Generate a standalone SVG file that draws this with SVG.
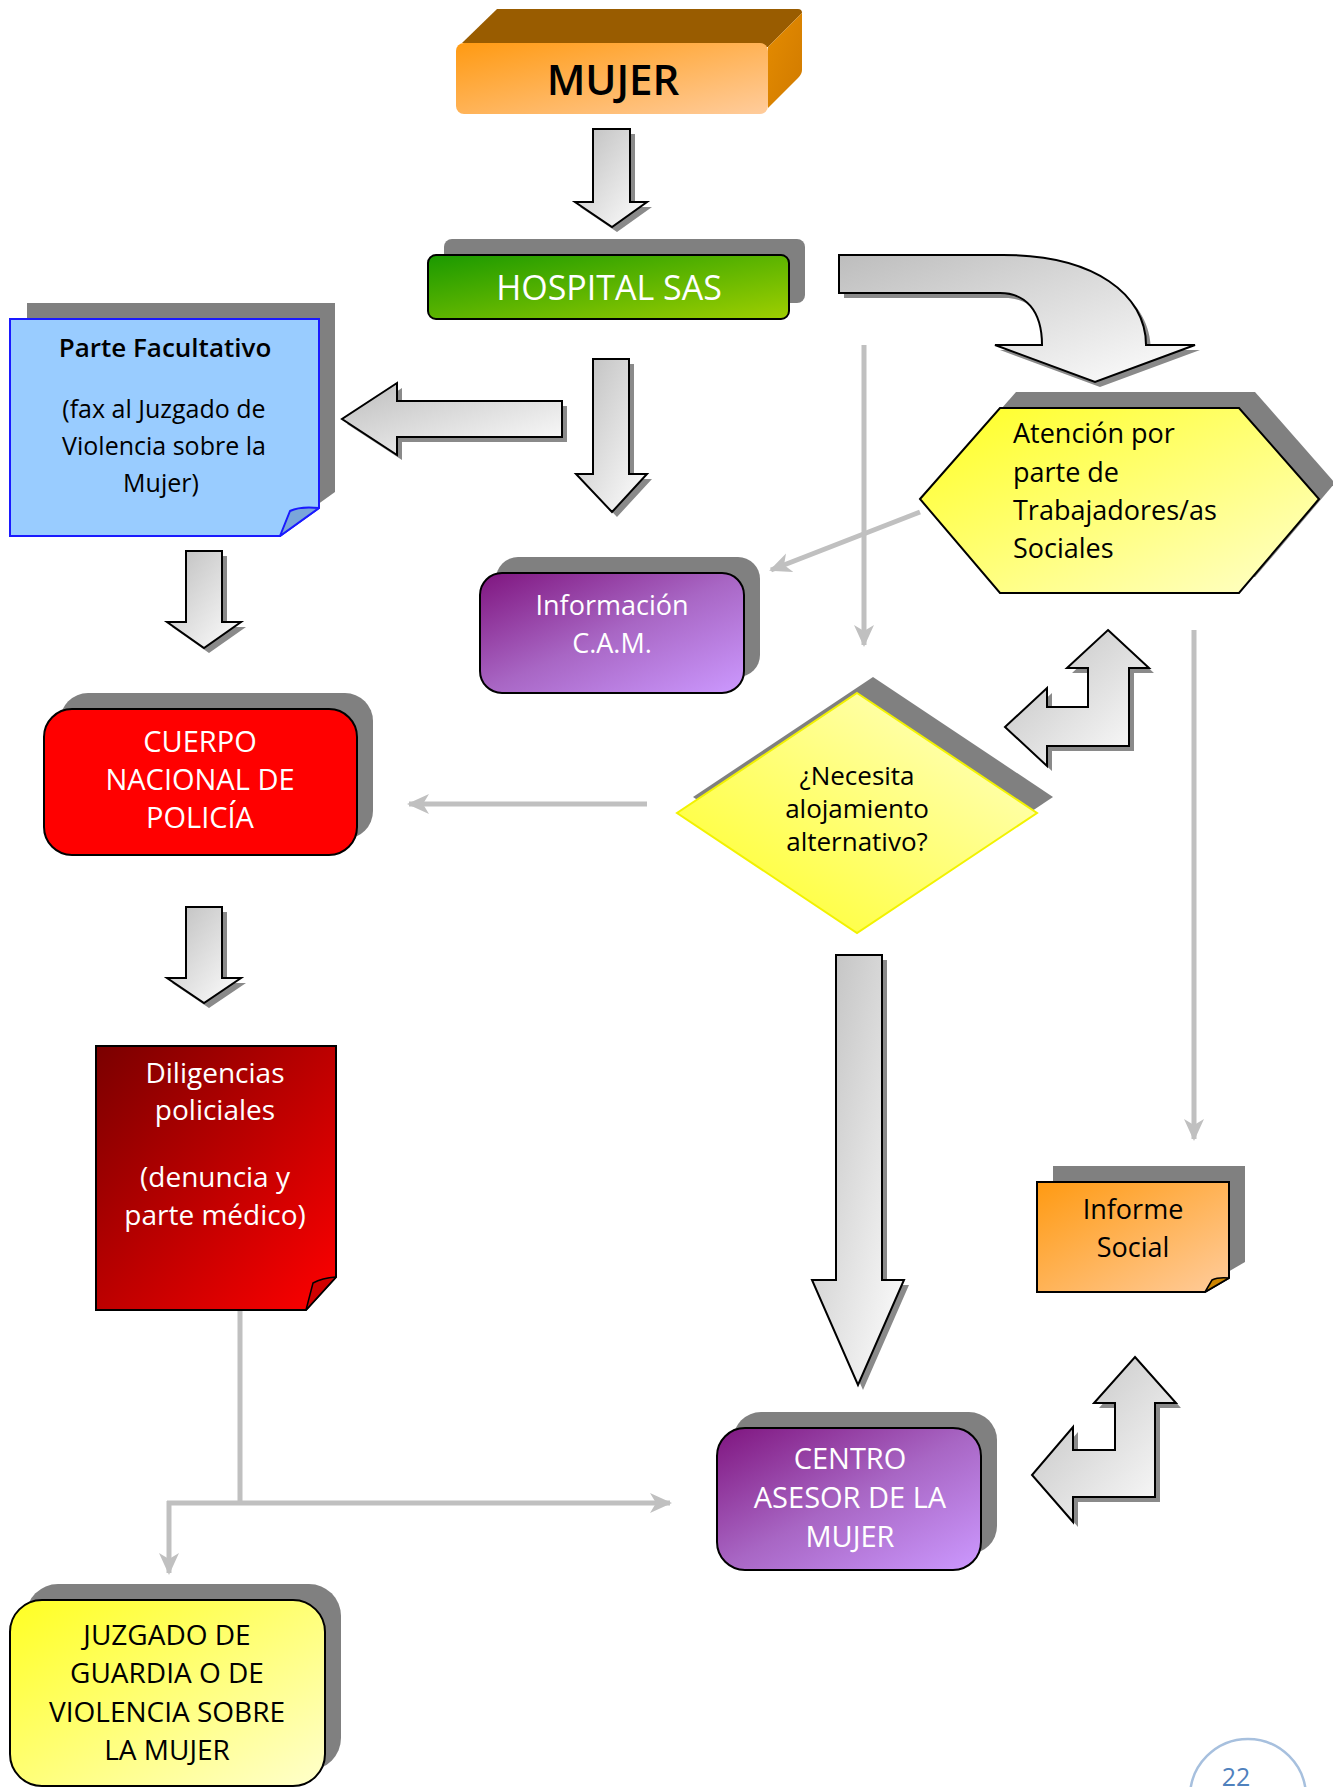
<svg xmlns="http://www.w3.org/2000/svg" xmlns:xlink="http://www.w3.org/1999/xlink" width="1333" height="1787" viewBox="0 0 1333 1787">
<style>
text{font-family:"Open Sans","DejaVu Sans",sans-serif;}
.shadow{fill:#808080;}
.ash{fill:#8a8a8a;}
.arr{fill:url(#gArrow);stroke:#000;stroke-width:2;stroke-linejoin:miter;}
.gline{fill:none;stroke:#c0c0c0;stroke-width:5;}
.w{fill:#fff;}
.k{fill:#000;}
.mid{text-anchor:middle;}
</style>
<defs>
<linearGradient id="gArrow" x1="0" y1="0" x2="1" y2="1"><stop offset="0" stop-color="#bdbdbd"/><stop offset="1" stop-color="#ffffff"/></linearGradient>
<linearGradient id="gOrange" x1="0" y1="0" x2="1" y2="1"><stop offset="0" stop-color="#ff9a12"/><stop offset="1" stop-color="#ffcc9c"/></linearGradient>
<linearGradient id="gGreen" x1="0" y1="0" x2="1" y2="1"><stop offset="0" stop-color="#1a9900"/><stop offset="1" stop-color="#9fcf00"/></linearGradient>
<linearGradient id="gPurple" x1="0" y1="0" x2="1" y2="1"><stop offset="0" stop-color="#7f157f"/><stop offset="0.5" stop-color="#a866c4"/><stop offset="1" stop-color="#cc99ff"/></linearGradient>
<linearGradient id="gYellow" x1="0" y1="0" x2="1" y2="1"><stop offset="0" stop-color="#ffff22"/><stop offset="1" stop-color="#ffffcc"/></linearGradient>
<linearGradient id="gYellowD" x1="0" y1="1" x2="1" y2="0"><stop offset="0" stop-color="#ffff22"/><stop offset="1" stop-color="#ffffcc"/></linearGradient>
<linearGradient id="gRed" x1="0" y1="0" x2="1" y2="1"><stop offset="0" stop-color="#7a0000"/><stop offset="1" stop-color="#ff0000"/></linearGradient>
<linearGradient id="gRight" x1="0" y1="0" x2="1" y2="1"><stop offset="0" stop-color="#e58c00"/><stop offset="1" stop-color="#d07a00"/></linearGradient>
<marker id="ga" markerUnits="userSpaceOnUse" viewBox="0 0 22 22" refX="20" refY="11" markerWidth="22" markerHeight="22" orient="auto"><path d="M0,1 L22,11 L0,21 L6,11 Z" fill="#c0c0c0"/></marker>
<path id="a1" d="M593,129 H630 V202 H647 L612,227 L575,202 H593 Z"/>
<path id="a2" d="M593,359 H629 V474 H647 L612,512 L576,474 H593 Z"/>
<path id="a3" d="M562,401 V437 H397 V455 L342,419 L397,383 V401 Z"/>
<path id="a4" d="M186,551 H222 V622 H241 L204,648 L167,622 H186 Z"/>
<path id="a5" d="M186,907 H222 V978 H241 L204,1003 L167,978 H186 Z"/>
<path id="a6" d="M836,955 H882 V1280 H904 L858,1385 L812,1280 H836 Z"/>
<path id="a7" d="M839,255 H1003 C1095,255 1146,295 1146,345 H1195 L1095,382 L995,345 H1042 C1042,310 1025,293 1000,293 H839 Z"/>
<path id="a8" d="M1108,630 L1149,668 H1129 V746 H1047 V766 L1005,727 L1047,688 V707 H1088 V668 H1067 Z"/>
<path id="a9" d="M1135,1357 L1176,1403 H1155 V1497 H1073 V1522 L1032,1475 L1073,1427 V1450 H1115 V1403 H1094 Z"/>
</defs>
<rect width="1333" height="1787" fill="#fff"/>

<g id="connectors">
<path class="gline" d="M864,345 V645" marker-end="url(#ga)"/>
<path class="gline" d="M920,512 L771,570" marker-end="url(#ga)"/>
<path class="gline" d="M647,804 H409" marker-end="url(#ga)"/>
<path class="gline" d="M1194,630 V1139" marker-end="url(#ga)"/>
<path class="gline" d="M240,1310 V1503"/>
<path class="gline" d="M167,1503 H670" marker-end="url(#ga)"/>
<path class="gline" d="M169,1501 V1573" marker-end="url(#ga)"/>
<use xlink:href="#a1" href="#a1" class="ash" transform="translate(5,5)"/>
<use xlink:href="#a1" href="#a1" class="arr"/>
<use xlink:href="#a2" href="#a2" class="ash" transform="translate(5,5)"/>
<use xlink:href="#a2" href="#a2" class="arr"/>
<use xlink:href="#a3" href="#a3" class="ash" transform="translate(5,5)"/>
<use xlink:href="#a3" href="#a3" class="arr"/>
<use xlink:href="#a4" href="#a4" class="ash" transform="translate(5,5)"/>
<use xlink:href="#a4" href="#a4" class="arr"/>
<use xlink:href="#a5" href="#a5" class="ash" transform="translate(5,5)"/>
<use xlink:href="#a5" href="#a5" class="arr"/>
<use xlink:href="#a6" href="#a6" class="ash" transform="translate(5,5)"/>
<use xlink:href="#a6" href="#a6" class="arr"/>
<use xlink:href="#a7" href="#a7" class="ash" transform="translate(5,5)"/>
<use xlink:href="#a7" href="#a7" class="arr"/>
<use xlink:href="#a8" href="#a8" class="ash" transform="translate(5,5)"/>
<use xlink:href="#a8" href="#a8" class="arr"/>
<use xlink:href="#a9" href="#a9" class="ash" transform="translate(5,5)"/>
<use xlink:href="#a9" href="#a9" class="arr"/>
</g>

<g id="mujer">
<path d="M462,43 L497,9 H798 Q802,9 802,13 L768,47 Z" fill="#995c00"/>
<path d="M768,47 L802,13 V70 Q802,74 798,78 L768,108 Z" fill="url(#gRight)"/>
<rect x="456" y="43" width="312" height="71" rx="8" fill="url(#gOrange)"/>
<text class="k mid" x="613" y="95" font-size="42" font-weight="600">MUJER</text>
</g>

<g id="hospital">
<rect class="shadow" x="444" y="239" width="361" height="64" rx="8"/>
<rect x="428" y="255" width="361" height="64" rx="8" fill="url(#gGreen)" stroke="#000" stroke-width="2"/>
<text class="w mid" x="609" y="300" font-size="34">HOSPITAL SAS</text>
</g>

<g id="parte">
<path class="shadow" d="M27,303 H335 V492 L296,520 H27 Z"/>
<path d="M10,319 H319 V508 L280,536 H10 Z" fill="#99ccff" stroke="#1a1aff" stroke-width="2"/>
<path d="M280,536 L290,511 Q300,506 319,508 Z" fill="#7aa6da" stroke="#1a1aff" stroke-width="2" stroke-linejoin="round"/>
<text class="k mid" x="165" y="357" font-size="26" font-weight="600">Parte Facultativo</text>
<text class="k mid" x="164" y="418" font-size="25">(fax al Juzgado de</text>
<text class="k mid" x="164" y="455" font-size="25">Violencia sobre la</text>
<text class="k mid" x="161" y="492" font-size="25">Mujer)</text>
</g>

<g id="informacion">
<rect class="shadow" x="496" y="557" width="264" height="120" rx="22"/>
<rect x="480" y="573" width="264" height="120" rx="22" fill="url(#gPurple)" stroke="#000" stroke-width="2"/>
<text class="w mid" x="612" y="615" font-size="27">Información</text>
<text class="w mid" x="612" y="653" font-size="27">C.A.M.</text>
</g>

<g id="atencion">
<polygon class="shadow" points="936,483 1016,392 1255,392 1335,483 1255,577 1016,577"/>
<polygon points="920,499 1000,408 1239,408 1319,499 1239,593 1000,593" fill="url(#gYellow)" stroke="#000" stroke-width="2"/>
<text class="k" x="1013" y="443" font-size="27">Atención por</text>
<text class="k" x="1013" y="482" font-size="27">parte de</text>
<text class="k" x="1013" y="520" font-size="27">Trabajadores/as</text>
<text class="k" x="1013" y="558" font-size="27">Sociales</text>
</g>

<g id="cuerpo">
<rect class="shadow" x="60" y="693" width="313" height="146" rx="28"/>
<rect x="44" y="709" width="313" height="146" rx="28" fill="#ff0000" stroke="#000" stroke-width="2"/>
<text class="w mid" x="200" y="752" font-size="29">CUERPO</text>
<text class="w mid" x="200" y="790" font-size="29">NACIONAL DE</text>
<text class="w mid" x="200" y="828" font-size="29">POLICÍA</text>
</g>

<g id="necesita">
<polygon class="shadow" points="873,677 1053,797 873,917 693,797"/>
<polygon points="857,693 1037,813 857,933 677,813" fill="url(#gYellowD)" stroke="#f2f200" stroke-width="2"/>
<text class="k mid" x="857" y="785" font-size="26">¿Necesita</text>
<text class="k mid" x="857" y="818" font-size="26">alojamiento</text>
<text class="k mid" x="857" y="851" font-size="26">alternativo?</text>
</g>

<g id="diligencias">
<path d="M96,1046 H336 V1277 L306,1310 H96 Z" fill="url(#gRed)" stroke="#000" stroke-width="2"/>
<path d="M306,1310 L313,1283 Q322,1278 336,1277 Z" fill="#d00000" stroke="#000" stroke-width="1.5" stroke-linejoin="round"/>
<text class="w mid" x="215" y="1083" font-size="28">Diligencias</text>
<text class="w mid" x="215" y="1120" font-size="28">policiales</text>
<text class="w mid" x="215" y="1187" font-size="28">(denuncia y</text>
<text class="w mid" x="215" y="1225" font-size="28">parte médico)</text>
</g>

<g id="informe">
<path class="shadow" d="M1053,1166 H1245 V1262 L1221,1276 H1053 Z"/>
<path d="M1037,1182 H1229 V1278 L1205,1292 H1037 Z" fill="url(#gOrange)" stroke="#000" stroke-width="2"/>
<path d="M1205,1292 L1212,1280 Q1218,1277 1229,1278 Z" fill="#cc8400" stroke="#000" stroke-width="1.5" stroke-linejoin="round"/>
<text class="k mid" x="1133" y="1219" font-size="27">Informe</text>
<text class="k mid" x="1133" y="1257" font-size="27">Social</text>
</g>

<g id="centro">
<rect class="shadow" x="733" y="1412" width="264" height="142" rx="28"/>
<rect x="717" y="1428" width="264" height="142" rx="28" fill="url(#gPurple)" stroke="#000" stroke-width="2"/>
<text class="w mid" x="850" y="1469" font-size="29">CENTRO</text>
<text class="w mid" x="850" y="1508" font-size="29">ASESOR DE LA</text>
<text class="w mid" x="850" y="1547" font-size="29">MUJER</text>
</g>

<g id="juzgado">
<rect class="shadow" x="26" y="1584" width="315" height="186" rx="32"/>
<rect x="10" y="1600" width="315" height="186" rx="32" fill="url(#gYellow)" stroke="#000" stroke-width="2"/>
<text class="k mid" x="167" y="1645" font-size="28">JUZGADO DE</text>
<text class="k mid" x="167" y="1683" font-size="28">GUARDIA O DE</text>
<text class="k mid" x="167" y="1722" font-size="28">VIOLENCIA SOBRE</text>
<text class="k mid" x="167" y="1760" font-size="28">LA MUJER</text>
</g>

<g id="pagenum">
<circle cx="1248" cy="1797" r="58" fill="none" stroke="#a7c0de" stroke-width="2.5"/>
<text x="1236" y="1786" font-size="25" fill="#4f81bd" text-anchor="middle">22</text>
</g>
</svg>
